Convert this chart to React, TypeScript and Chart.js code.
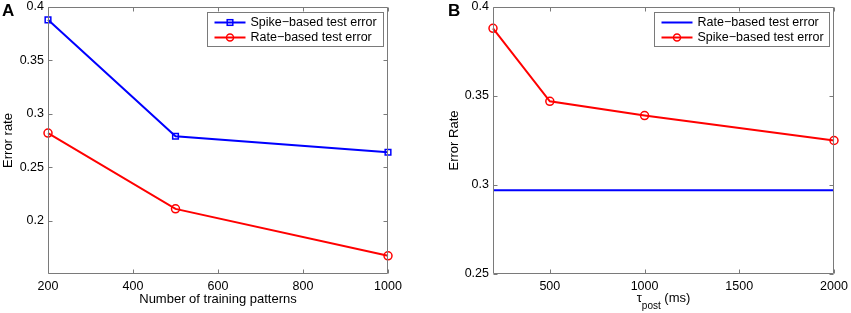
import React, { useEffect, useRef } from "react";
import { Chart, registerables } from "chart.js";

Chart.register(...registerables);

// ---------- Data ----------
// Panel A
const trainingPatterns = [200, 500, 1000];
const spikeErrorA = [0.388, 0.279, 0.264];
const rateErrorA = [0.282, 0.211, 0.167];
const xTicksA = [200, 400, 600, 800, 1000];
const yTicksA = [0.2, 0.25, 0.3, 0.35, 0.4];

// Panel B
const tauPost = [200, 500, 1000, 2000];
const spikeErrorB = [0.388, 0.347, 0.339, 0.325];
const rateLineX = [200, 2000];
const rateErrorB = [0.297, 0.297];
const xTicksB = [500, 1000, 1500, 2000];
const yTicksB = [0.25, 0.3, 0.35, 0.4];

const FONT = "'Liberation Sans', Arial, Helvetica, sans-serif";
const BLUE = "#0000ff";
const RED = "#ff0000";
const FRAME = "#7a7a7a";
const TICK_SIZE = 12.5;
const TEXT_SIZE = 13;
const LEGEND_SIZE = 12.5;

function fmt(v: number) {
  return String(Number(v.toFixed(3)));
}

type LegendItem = { label: string; color: string; marker: "rect" | "circle" | "none" };

const matlabPlugin = {
  id: "matlab",
  afterDatasetsDraw(chart: any) {
    const { ctx, chartArea: a } = chart;
    const L = Math.round(a.left) + 0.5;
    const R = Math.round(a.right) - 0.5;
    const T = Math.round(a.top) + 0.5;
    const B = Math.round(a.bottom) - 0.5;
    ctx.save();
    ctx.strokeStyle = FRAME;
    ctx.lineWidth = 1;
    ctx.beginPath();
    ctx.rect(L, T, R - L, B - T);
    ctx.stroke();
    const tl = 4;
    const xs = chart.scales.x;
    const ys = chart.scales.y;
    ctx.beginPath();
    xs.ticks.forEach((t: any) => {
      const px = Math.round(xs.getPixelForValue(t.value)) + 0.5;
      ctx.moveTo(px, B);
      ctx.lineTo(px, B - tl);
      ctx.moveTo(px, T);
      ctx.lineTo(px, T + tl);
    });
    ys.ticks.forEach((t: any) => {
      const py = Math.round(ys.getPixelForValue(t.value)) + 0.5;
      ctx.moveTo(L, py);
      ctx.lineTo(L + tl, py);
      ctx.moveTo(R, py);
      ctx.lineTo(R - tl, py);
    });
    ctx.stroke();
    ctx.restore();
  },
  afterDraw(chart: any, _args: any, opts: any) {
    const { ctx, chartArea: a } = chart;
    ctx.save();
    const items: LegendItem[] = opts.legend || [];
    if (items.length) {
      const w = opts.legendWidth;
      const h = 34;
      const bx = Math.round(a.right - 5 - w) + 0.5;
      const by = Math.round(a.top + 5) + 0.5;
      ctx.fillStyle = "#ffffff";
      ctx.fillRect(bx, by, w, h);
      ctx.strokeStyle = FRAME;
      ctx.lineWidth = 1;
      ctx.strokeRect(bx, by, w, h);
      items.forEach((it, i) => {
        const cy = by + 10 + i * 15;
        const x0 = bx + 7;
        const x1 = bx + 38;
        const cx = (x0 + x1) / 2;
        ctx.strokeStyle = it.color;
        ctx.lineWidth = 2;
        ctx.beginPath();
        ctx.moveTo(x0, cy);
        ctx.lineTo(x1, cy);
        ctx.stroke();
        ctx.lineWidth = 1.5;
        if (it.marker === "rect") {
          ctx.strokeRect(cx - 2.8, cy - 2.8, 5.6, 5.6);
        } else if (it.marker === "circle") {
          ctx.beginPath();
          ctx.arc(cx, cy, 3.5, 0, Math.PI * 2);
          ctx.stroke();
        }
        ctx.fillStyle = "#000";
        ctx.font = `${LEGEND_SIZE}px ${FONT}`;
        ctx.textBaseline = "middle";
        ctx.textAlign = "left";
        ctx.fillText(it.label, bx + 43, cy + 0.5);
      });
    }
    ctx.fillStyle = "#000";
    ctx.font = `bold 17px ${FONT}`;
    ctx.textBaseline = "alphabetic";
    ctx.textAlign = "left";
    ctx.fillText(opts.panel, opts.panelX, 16);
    if (opts.subTitle) {
      const { main, sub, rest } = opts.subTitle;
      ctx.font = `${TEXT_SIZE}px ${FONT}`;
      const w1 = ctx.measureText(main).width;
      const w3 = ctx.measureText(rest).width;
      ctx.font = `10px ${FONT}`;
      const w2 = ctx.measureText(sub).width;
      const total = w1 + w2 + w3;
      let x = (a.left + a.right) / 2 - total / 2;
      const base = 302;
      ctx.font = `${TEXT_SIZE}px ${FONT}`;
      ctx.fillText(main, x, base);
      x += w1;
      ctx.font = `10px ${FONT}`;
      ctx.fillText(sub, x, base + 7);
      x += w2;
      ctx.font = `${TEXT_SIZE}px ${FONT}`;
      ctx.fillText(rest, x, base);
    }
    ctx.restore();
  },
};

function makeConfig(p: {
  datasets: any[];
  xMin: number;
  xMax: number;
  xTicks: number[];
  yMin: number;
  yMax: number;
  yTicks: number[];
  yWidth: number;
  rightPad: number;
  xTitle: string | null;
  yTitle: string;
  yTitlePad: number;
  plugin: any;
}) {
  return {
    type: "line" as const,
    data: { datasets: p.datasets },
    plugins: [matlabPlugin],
    options: {
      animation: false,
      responsive: false,
      maintainAspectRatio: false,
      layout: { padding: { left: 0, right: p.rightPad, top: 7, bottom: 0 } },
      plugins: {
        legend: { display: false },
        tooltip: { enabled: false },
        matlab: p.plugin,
      },
      scales: {
        x: {
          type: "linear",
          min: p.xMin,
          max: p.xMax,
          grid: { display: false, drawTicks: false },
          border: { display: false },
          afterBuildTicks: (s: any) => {
            s.ticks = p.xTicks.map((v) => ({ value: v }));
          },
          afterFit: (s: any) => {
            s.height = 39;
            s.paddingLeft = 0;
            s.paddingRight = 0;
          },
          ticks: {
            padding: 5,
            maxRotation: 0,
            autoSkip: false,
            color: "#000",
            font: { family: FONT, size: TICK_SIZE },
            callback: (v: any) => fmt(Number(v)),
          },
          title: {
            display: !!p.xTitle,
            text: p.xTitle || "",
            color: "#000",
            font: { family: FONT, size: TEXT_SIZE },
            padding: { top: 0, bottom: 6 },
          },
        },
        y: {
          type: "linear",
          min: p.yMin,
          max: p.yMax,
          grid: { display: false, drawTicks: false },
          border: { display: false },
          afterBuildTicks: (s: any) => {
            s.ticks = p.yTicks.map((v) => ({ value: v }));
          },
          afterFit: (s: any) => {
            s.width = p.yWidth;
            s.paddingTop = 0;
            s.paddingBottom = 0;
          },
          ticks: {
            padding: 4,
            autoSkip: false,
            color: "#000",
            font: { family: FONT, size: TICK_SIZE },
            callback: (v: any) => fmt(Number(v)),
          },
          title: {
            display: true,
            text: p.yTitle,
            color: "#000",
            font: { family: FONT, size: TEXT_SIZE },
            padding: { top: p.yTitlePad, bottom: 0 },
          },
        },
      },
    },
  };
}

function ChartCanvas({ config, width, height }: { config: any; width: number; height: number }) {
  const ref = useRef<HTMLCanvasElement | null>(null);
  useEffect(() => {
    if (!ref.current) return;
    const chart = new Chart(ref.current, config);
    return () => chart.destroy();
  }, []);
  return (
    <canvas ref={ref} width={width} height={height} style={{ display: "block", width, height }} />
  );
}

const lineStyle = (color: string, marker: string | false) => ({
  borderColor: color,
  backgroundColor: "rgba(0,0,0,0)",
  borderWidth: 2,
  pointStyle: marker || "circle",
  pointRadius: marker ? 4 : 0,
  pointBorderWidth: 1.5,
  pointBorderColor: color,
  pointBackgroundColor: "rgba(0,0,0,0)",
  tension: 0,
  clip: false as const,
  fill: false,
});

export default function App() {
  const configA = makeConfig({
    datasets: [
      {
        label: "Spike-based test error",
        data: trainingPatterns.map((x, i) => ({ x, y: spikeErrorA[i] })),
        ...lineStyle(BLUE, "rect"),
      },
      {
        label: "Rate-based test error",
        data: trainingPatterns.map((x, i) => ({ x, y: rateErrorA[i] })),
        ...lineStyle(RED, "circle"),
      },
    ],
    xMin: 200,
    xMax: 1000,
    xTicks: xTicksA,
    yMin: 0.15,
    yMax: 0.4,
    yTicks: yTicksA,
    yWidth: 48,
    rightPad: 37,
    xTitle: "Number of training patterns",
    yTitle: "Error rate",
    yTitlePad: 0.5,
    plugin: {
      panel: "A",
      panelX: 2,
      legendWidth: 176,
      legend: [
        { label: "Spike\u2212based test error", color: BLUE, marker: "rect" },
        { label: "Rate\u2212based test error", color: RED, marker: "circle" },
      ],
    },
  });

  const configB = makeConfig({
    datasets: [
      {
        label: "Rate-based test error",
        data: rateLineX.map((x, i) => ({ x, y: rateErrorB[i] })),
        ...lineStyle(BLUE, false),
      },
      {
        label: "Spike-based test error",
        data: tauPost.map((x, i) => ({ x, y: spikeErrorB[i] })),
        ...lineStyle(RED, "circle"),
      },
    ],
    xMin: 200,
    xMax: 2000,
    xTicks: xTicksB,
    yMin: 0.25,
    yMax: 0.4,
    yTicks: yTicksB,
    yWidth: 68,
    rightPad: 17,
    xTitle: null,
    yTitle: "Error Rate",
    yTitlePad: 21.5,
    plugin: {
      panel: "B",
      panelX: 23,
      legendWidth: 175,
      legend: [
        { label: "Rate\u2212based test error", color: BLUE, marker: "none" },
        { label: "Spike\u2212based test error", color: RED, marker: "circle" },
      ],
      subTitle: { main: "\u03c4", sub: "post", rest: " (ms)" },
    },
  });

  return (
    <div style={{ position: "absolute", left: 0, top: 0, width: 851, height: 313, display: "flex", background: "#fff" }}>
      <ChartCanvas config={configA} width={425} height={313} />
      <ChartCanvas config={configB} width={426} height={313} />
    </div>
  );
}
